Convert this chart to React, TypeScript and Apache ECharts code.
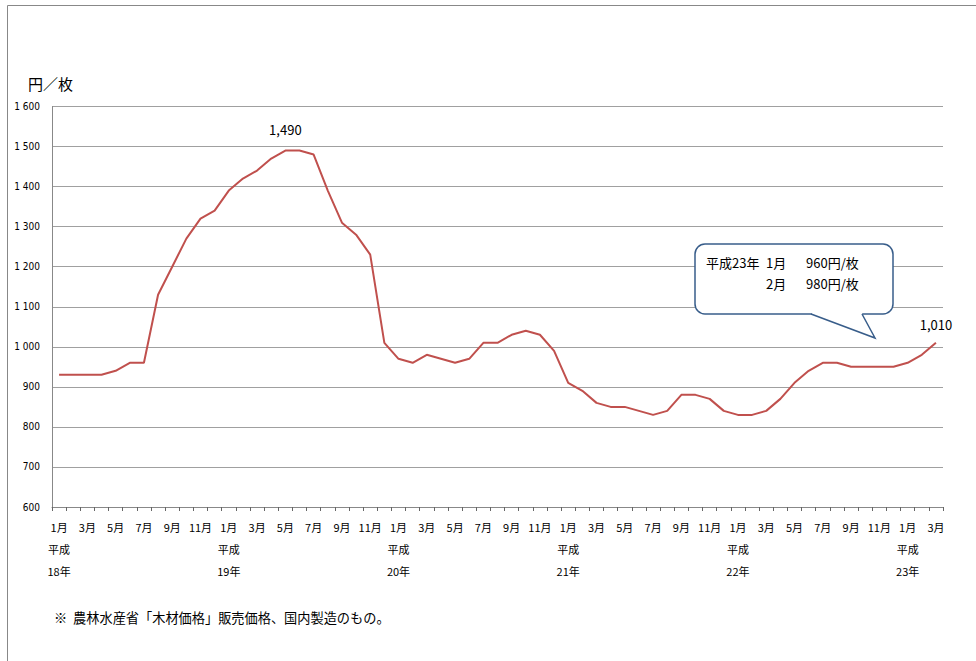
import React, { useEffect, useRef } from "react";
import * as echarts from "echarts";

const months: string[] = [];
const eraStarts = ["18年", "19年", "20年", "21年", "22年", "23年"];
for (let y = 0; y < 6; y++) {
  const n = y === 5 ? 3 : 12;
  for (let m = 1; m <= n; m++) months.push(`${y}-${m}`);
}

const prices = [
  930, 930, 930, 930, 940, 960, 960, 1130, 1200, 1270, 1320, 1340,
  1390, 1420, 1440, 1470, 1490, 1490, 1480, 1390, 1310, 1280, 1230, 1010,
  970, 960, 980, 970, 960, 970, 1010, 1010, 1030, 1040, 1030, 990,
  910, 890, 860, 850, 850, 840, 830, 840, 880, 880, 870, 840,
  830, 830, 840, 870, 910, 940, 960, 960, 950, 950, 950, 950,
  960, 980, 1010,
];

const labeledIndex = [16, 62];

const JP = '"Noto Sans CJK JP", "Liberation Sans", sans-serif';

export default function App() {
  const ref = useRef<HTMLDivElement>(null);
  useEffect(() => {
    if (!ref.current) return;
    const chart = echarts.init(ref.current, undefined, { renderer: "svg" });
    const data = prices.map((v, i) =>
      labeledIndex.includes(i)
        ? {
            value: v,
            label: {
              show: true,
              position: "top",
              distance: i === 16 ? 15 : 12,
              formatter: (p: any) => Number(p.value).toLocaleString("en-US"),
              fontSize: 13,
              color: "#000",
              fontFamily: JP,
            },
          }
        : v
    );
    chart.setOption({
      animation: false,
      backgroundColor: "#fff",
      grid: { left: 52, right: 33, top: 106.5, bottom: 154, containLabel: false },
      xAxis: {
        type: "category",
        data: months,
        boundaryGap: true,
        axisLine: { show: true, lineStyle: { color: "#888", width: 1 } },
        axisTick: { show: true, interval: 0, length: 4, inside: false, lineStyle: { color: "#666", width: 1 } },
        axisLabel: {
          interval: 1,
          margin: 9,
          fontSize: 11,
          lineHeight: 22,
          color: "#000",
          fontFamily: JP,
          verticalAlign: "top",
          formatter: (v: string) => {
            const [y, m] = v.split("-").map(Number);
            if (m === 1) return `1月\n平成\n${eraStarts[y]}`;
            return `${m}月`;
          },
        },
        splitLine: { show: false },
      },
      yAxis: {
        type: "value",
        min: 600,
        max: 1600,
        interval: 100,
        name: "円／枚",
        nameLocation: "end",
        nameGap: 16,
        nameTextStyle: { fontSize: 15, color: "#000", fontFamily: JP, align: "left", padding: [0, 0, 0, -24] },
        axisLine: { show: true, lineStyle: { color: "#888" } },
        axisTick: { show: false },
        axisLabel: {
          fontSize: 10,
          color: "#000",
          margin: 12,
          fontFamily: '"DejaVu Sans Condensed", "Liberation Sans Narrow", sans-serif',
          formatter: (v: number) => (v >= 1000 ? `${Math.floor(v / 1000)} ${String(v % 1000).padStart(3, "0")}` : String(v)),
        },
        splitLine: { show: true, lineStyle: { color: "#a0a0a0", width: 1 } },
      },
      series: [
        {
          type: "line",
          data,
          symbol: "circle",
          symbolSize: 0,
          showSymbol: true,
          lineStyle: { color: "#C0504D", width: 2 },
          itemStyle: { color: "#C0504D" },
        },
      ],
      graphic: [
        {
          type: "rect",
          shape: { x: 7.5, y: 5.5, width: 980, height: 670 },
          style: { fill: "none", stroke: "#888", lineWidth: 1 },
          silent: true,
        },
        {
          type: "rect",
          shape: { x: 695, y: 244, width: 198, height: 70, r: 10 },
          style: { fill: "#fff", stroke: "#385D8A", lineWidth: 1.5 },
          z: 10,
        },
        {
          type: "line",
          shape: { x1: 812, y1: 314, x2: 861, y2: 314 },
          style: { stroke: "#fff", lineWidth: 3 },
          z: 11,
        },
        {
          type: "polygon",
          shape: { points: [[811, 313], [875, 338], [862, 313]] },
          style: { fill: "#fff", stroke: "none" },
          z: 11,
        },
        {
          type: "polyline",
          shape: { points: [[811, 314], [875, 338], [862, 314]] },
          style: { fill: "none", stroke: "#385D8A", lineWidth: 1.5 },
          z: 12,
        },
        {
          type: "text",
          x: 706,
          y: 262,
          style: { text: "平成23年", font: `13px ${JP}`, fill: "#000", verticalAlign: "middle" },
          z: 13,
        },
        {
          type: "text",
          x: 766,
          y: 262,
          style: { text: "1月", font: `13px ${JP}`, fill: "#000", verticalAlign: "middle" },
          z: 13,
        },
        {
          type: "text",
          x: 806,
          y: 262,
          style: { text: "960円/枚", font: `13px ${JP}`, fill: "#000", verticalAlign: "middle" },
          z: 13,
        },
        {
          type: "text",
          x: 766,
          y: 283,
          style: { text: "2月", font: `13px ${JP}`, fill: "#000", verticalAlign: "middle" },
          z: 13,
        },
        {
          type: "text",
          x: 806,
          y: 283,
          style: { text: "980円/枚", font: `13px ${JP}`, fill: "#000", verticalAlign: "middle" },
          z: 13,
        },
        {
          type: "text",
          x: 54,
          y: 617,
          style: { text: "※  農林水産省「木材価格」販売価格、国内製造のもの。", font: `13.2px ${JP}`, fill: "#000", verticalAlign: "middle" },
        },
      ],
    });
    return () => chart.dispose();
  }, []);
  return <div ref={ref} style={{ position: "fixed", left: 0, top: 0, width: 976, height: 661 }} />;
}
